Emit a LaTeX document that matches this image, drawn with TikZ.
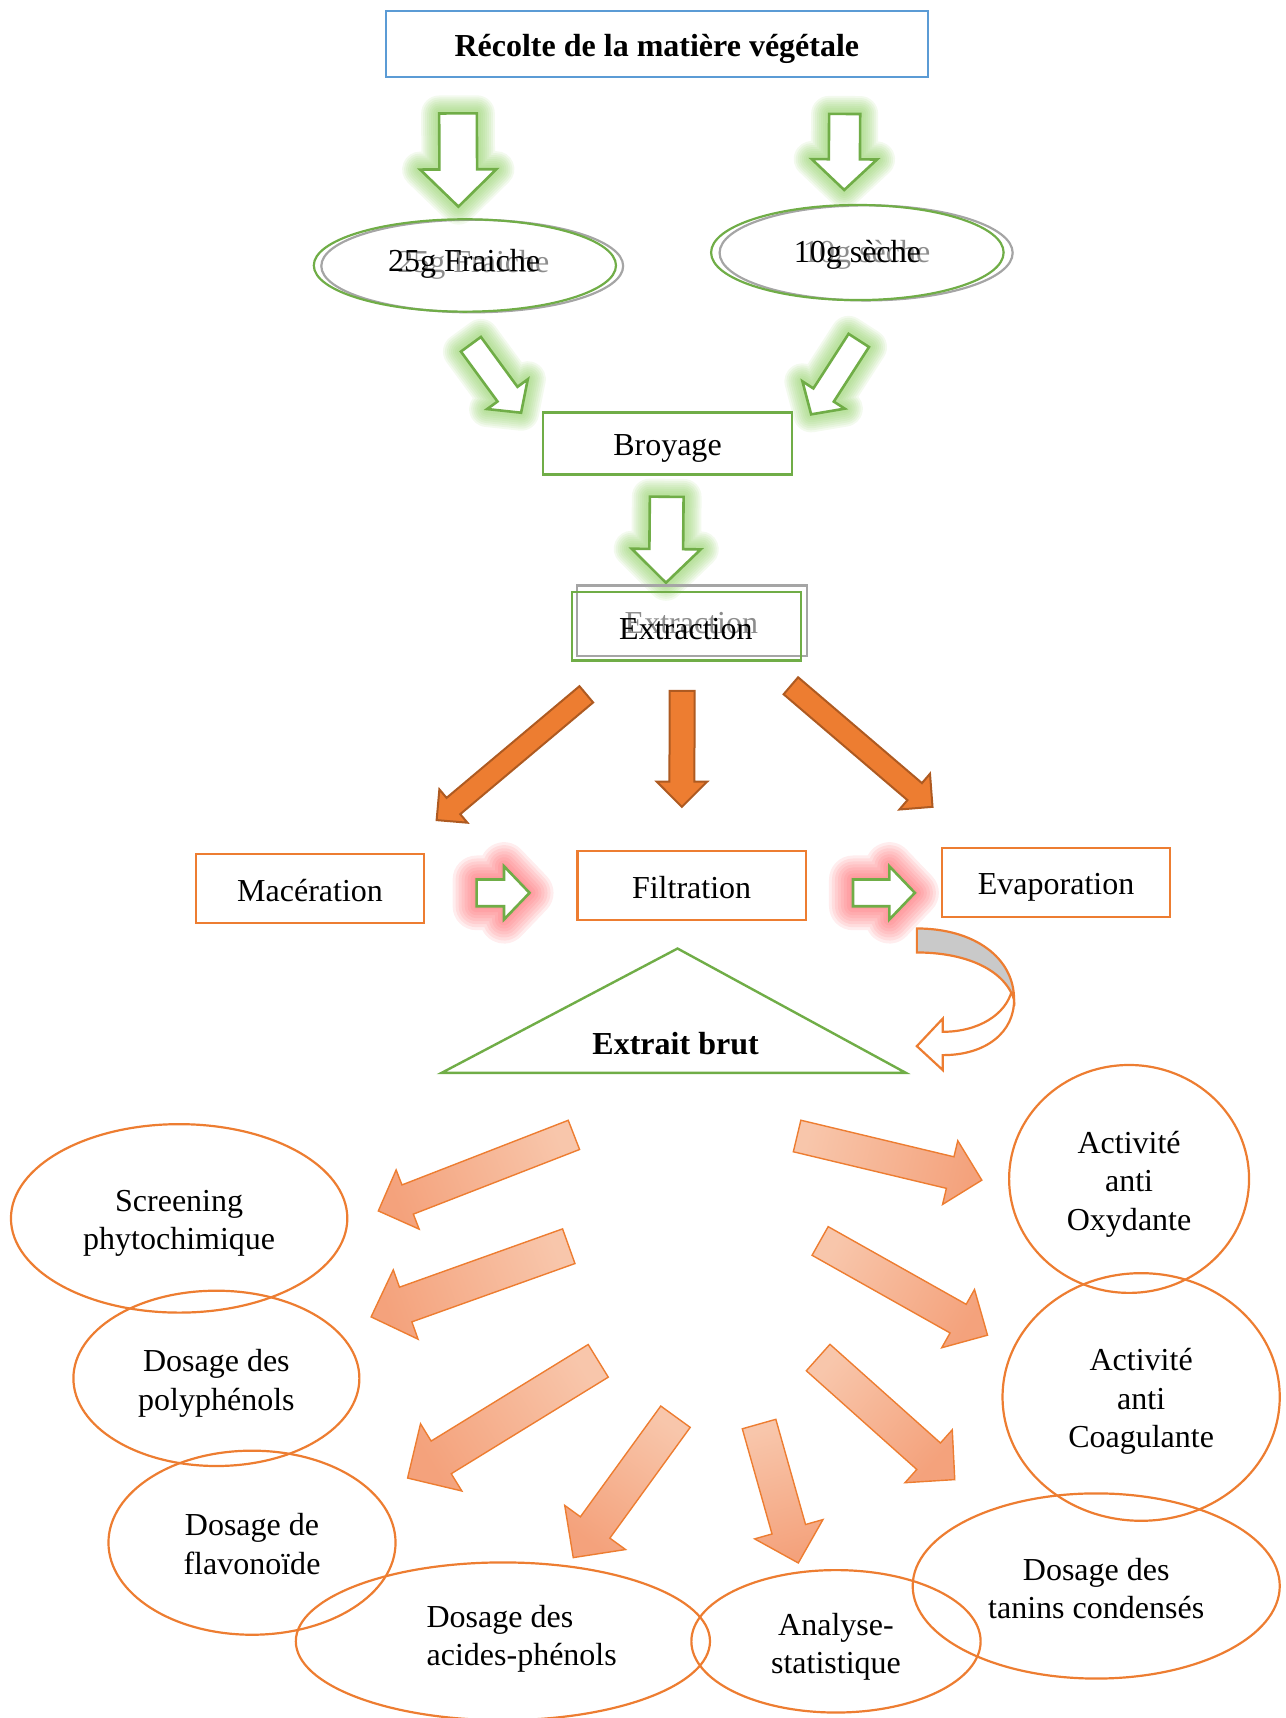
\documentclass[tikz,border=0pt]{standalone}
\usepackage{fontspec}
\setmainfont{Liberation Serif}
\usetikzlibrary{shapes.geometric}
\definecolor{cgreen}{HTML}{70AD47}
\definecolor{cglow}{HTML}{8FCF63}
\definecolor{cblue}{HTML}{5B9BD5}
\definecolor{corange}{HTML}{ED7D31}
\definecolor{cdark}{HTML}{AE5A21}
\definecolor{clight}{HTML}{F8C6AB}
\definecolor{cmid}{HTML}{F4A27C}
\definecolor{cred}{HTML}{FF5A60}
\definecolor{cgray}{HTML}{A5A5A5}
\definecolor{cghost}{HTML}{8C8C8C}
\definecolor{cband}{HTML}{C9C9C9}
\newcommand\pxu{0.5477}
\newcommand\blockarrow[8]{%
 \pgfmathsetmacro\bang{atan2(-(#5-#3),#4-#2)}%
 \pgfmathsetmacro\bshang{\bang-90}%
 \pgfmathsetmacro\blen{veclen(#4-#2,#5-#3)}%
 \pgfmathsetmacro\bsl{\blen-#8}%
 \path[shift={(#2,#3)}, rotate=\bang, #1] (0,-#6) -- (\bsl,-#6) -- (\bsl,-#7) -- (\blen,0) -- (\bsl,#7) -- (\bsl,#6) -- (0,#6) -- cycle;}
\newcommand\glowarrow[9]{%
 \foreach \gw in {#9}{\blockarrow{draw=#1, line width=\gw pt, line join=round, opacity=0.11}{#2}{#3}{#4}{#5}{#6}{#7}{#8}}}
\begin{document}
\begin{tikzpicture}[x=0.5477pt, y=-0.5477pt,
  every node/.style={font=\fontsize{16}{19.2}\selectfont, inner sep=0pt},
  sz/.style 2 args={minimum width={#1*\pxu*1pt}, minimum height={#2*\pxu*1pt}},
  boxG/.style={draw=cgreen, line width=1.1pt, rectangle},
  boxO/.style={draw=corange, line width=1.1pt, rectangle},
  ellO/.style={draw=corange, line width=1.1pt, ellipse},
  txt/.style={align=center},
  garrow/.style={fill=white, draw=cgreen, line width=1.3pt},
  oarrow/.style={fill=corange, draw=cdark, line width=1pt},
  sarrow/.style={shading=axis, top color=cmid, bottom color=clight, shading angle=\bshang, draw=corange, line width=0.7pt}]
\useasboundingbox (0,0) rectangle (1173,1568);
\clip (0,0) rectangle (1173,1568);

% ---- glows
\glowarrow{cglow}{418}{103.5}{418.4}{188.6}{17.2}{34.8}{34}{18,16,14,12,10,8,6,4}
\glowarrow{cglow}{770.9}{104}{770.5}{173.4}{14.2}{29.8}{28}{18,16,14,12,10,8,6,4}
\glowarrow{cglow}{429.8}{314.2}{475.6}{376.7}{11.3}{23}{21}{18,16,14,12,10,8,6,4}
\glowarrow{cglow}{783.8}{310.7}{740.3}{378.2}{11.1}{23}{21}{18,16,14,12,10,8,6,4}
\glowarrow{cglow}{608.5}{453.4}{607.8}{531.9}{15.4}{31.5}{30.8}{18,16,14,12,10,8,6,4}
\glowarrow{cred}{435}{814.9}{483.3}{814.9}{12.2}{24.3}{23.3}{24,21,18,15,12,9,6,3}
\glowarrow{cred}{778.5}{814.9}{835}{814.9}{12.2}{24.3}{23.3}{24,21,18,15,12,9,6,3}

% ---- top part
\node[draw=cblue, line width=1.1pt, sz={495}{60}] (recolte) at (599.5,40) {};
\node[font=\fontsize{16}{19.2}\selectfont\bfseries, yshift=-2.5pt] (recolteT) at (recolte.center) {Récolte de la matière végétale};

\blockarrow{garrow}{418}{103.5}{418.4}{188.6}{17.2}{34.8}{34}
\blockarrow{garrow}{770.9}{104}{770.5}{173.4}{14.2}{29.8}{28}

\node[ellipse, draw=cgray, line width=1.1pt, sz={275.5}{84.5}] (fraicheG) at (431,242.8) {};
\node[ellipse, draw=cgreen, line width=1.1pt, sz={275.8}{84.3}] (fraiche) at (424.3,242.3) {};
\node[text=cghost] (fraicheGT) at (432,241.5) {25g Fraiche};
\node (fraicheT) at (423.5,240.5) {25g Fraiche};
\node[ellipse, draw=cgray, line width=1.1pt, sz={267.5}{86.8}] (secheG) at (790.5,230.8) {};
\node[ellipse, draw=cgreen, line width=1.1pt, sz={267}{86.8}] (seche) at (782.5,230.5) {};
\node[text=cghost] (secheGT) at (791,232.5) {10g sèche};
\node (secheT) at (782.5,232.5) {10g sèche};

\blockarrow{garrow}{429.8}{314.2}{475.6}{376.7}{11.3}{23}{21}
\blockarrow{garrow}{783.8}{310.7}{740.3}{378.2}{11.1}{23}{21}

\node[boxG, sz={227.3}{56.6}] (broyage) at (609.2,404.7) {};
\node[yshift=-2.5pt] (broyageT) at (broyage.center) {Broyage};
\blockarrow{garrow}{608.5}{453.4}{607.8}{531.9}{15.4}{31.5}{30.8}

\node[draw=cgray, line width=1.1pt, sz={209.8}{64.5}] (extractionG) at (631.7,566.6) {};
\node[boxG, sz={209.1}{62.4}] (extraction) at (626.3,571.6) {};
\node[text=cghost] (extractionGT) at (631,568.5) {Extraction};
\node (extractionT) at (626,574) {Extraction};

% ---- orange arrows
\blockarrow{oarrow}{535.1}{633.7}{398.5}{748.5}{9.7}{19.9}{20}
\blockarrow{oarrow}{622.6}{630.5}{622.3}{736.4}{11.4}{23}{23}
\blockarrow{oarrow}{721.8}{625.9}{851.1}{736.4}{10.2}{21.5}{21.4}

\node[boxO, sz={208.5}{62.6}] (maceration) at (283,810.9) {};
\node[yshift=-0.8pt] (macerationT) at (maceration.center) {Macération};
\node[boxO, sz={208.4}{63}] (filtration) at (631.2,808.3) {};
\node[yshift=-0.8pt] (filtrationT) at (filtration.center) {Filtration};
\node[boxO, sz={207.8}{63}] (evaporation) at (963.9,805.3) {};
\node[yshift=-2.5pt] (evaporationT) at (evaporation.center) {Evaporation};

\blockarrow{garrow}{435}{814.9}{483.3}{814.9}{12.2}{24.3}{23.3}
\blockarrow{garrow}{778.5}{814.9}{835}{814.9}{12.2}{24.3}{23.3}

% ---- curved arrow
\filldraw[fill=white, draw=corange, line width=1.1pt, line join=miter]
  (923.5,904) .. controls (918,926) and (893,941.7) .. (860.5,941.7)
  -- (860.5,929.6) -- (836.8,954.8) -- (860.5,976.7) -- (860.5,963)
  .. controls (900,963) and (926,942) .. (925.5,912) -- cycle;
\filldraw[fill=cband, draw=corange, line width=1.1pt]
  (836.8,847.4) .. controls (889,847.4) and (925.5,874) .. (925.5,912)
  .. controls (916,884) and (880,869.3) .. (836.8,869.3) -- cycle;

% ---- triangle
\coordinate (tA) at (618.4,865.7);
\coordinate (tB) at (826.8,979.2);
\coordinate (tC) at (403,979.2);
\draw[cgreen, line width=1.2pt] (tA) -- (tB) -- (tC) -- cycle;
\node[font=\fontsize{16}{19.2}\selectfont\bfseries] (brut) at (616.6,952.4) {Extrait brut};

% ---- gradient arrows
\blockarrow{sarrow}{523.8}{1035.8}{345.3}{1105.2}{14.3}{29}{28.7}
\blockarrow{sarrow}{519.1}{1137.4}{338.7}{1201.9}{16.8}{33.6}{33.5}
\blockarrow{sarrow}{546}{1242}{372}{1349}{17.5}{36}{36}
\blockarrow{sarrow}{616.5}{1293}{523.2}{1421.6}{16.6}{34.3}{34}
\blockarrow{sarrow}{692.8}{1299.7}{728.6}{1426.5}{15.9}{32.4}{32}
\blockarrow{sarrow}{746.7}{1239}{871.4}{1350.4}{16.2}{32.4}{32}
\blockarrow{sarrow}{748.5}{1132.6}{901.3}{1218.6}{15}{30.5}{30.8}
\blockarrow{sarrow}{727.5}{1036.8}{896.1}{1077.1}{14.8}{29.9}{29.7}

% ---- result ellipses
\node[ellO, sz={307}{172}] (screening) at (163.5,1112) {};
\node[txt, yshift=-2.4pt] (screeningT) at (screening.center) {Screening\\phytochimique};
\node[ellO, sz={261}{160}] (polyph) at (197.5,1258) {};
\node[txt, yshift=-2.4pt] (polyphT) at (polyph.center) {Dosage des\\polyphénols};
\node[ellO, sz={262}{168}] (flavo) at (230,1408) {};
\node[txt, yshift=-0.6pt] (flavoT) at (flavo.center) {Dosage de\\flavonoïde};
\node[ellO, sz={378}{144}] (acides) at (459,1498) {};
\node[align=left, anchor=west] (acidesT) at (389,1495.5) {Dosage des\\acides-phénols};
\node[ellO, sz={264}{130}] (analyse) at (763,1498) {};
\node[txt, yshift=-2.6pt] (analyseT) at (analyse.center) {Analyse-\\statistique};
\node[ellO, sz={335}{169}] (tanins) at (1000.5,1447.5) {};
\node[txt, yshift=-1.3pt] (taninsT) at (tanins.center) {Dosage des\\tanins condensés};
\node[ellO, sz={253}{226}] (coag) at (1041.5,1275) {};
\node[txt, yshift=-2.2pt] (coagT) at (coag.center) {Activité\\anti\\Coagulante};
\node[ellO, sz={219}{208}] (oxyd) at (1030.5,1076) {};
\node[txt, yshift=-2.6pt] (oxydT) at (oxyd.center) {Activité\\anti\\Oxydante};
\end{tikzpicture}
\end{document}
